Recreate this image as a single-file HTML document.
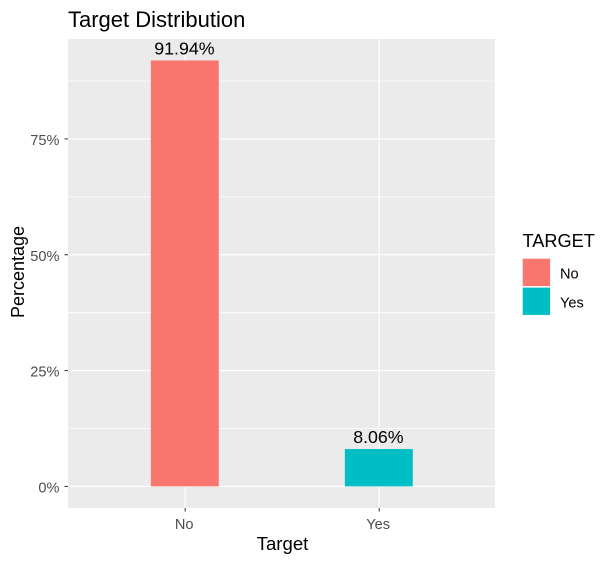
<!DOCTYPE html>
<html>
<head>
<meta charset="utf-8">
<style>
html,body{margin:0;padding:0;background:#fff;width:615px;height:563px;overflow:hidden}
svg{display:block;font-family:"Liberation Sans",Arial,sans-serif}
</style>
</head>
<body>
<svg id="chart" width="615" height="563" viewBox="0 0 615 563" xmlns="http://www.w3.org/2000/svg">
<rect x="0" y="0" width="615" height="563" fill="#ffffff"/>
<rect x="68" y="39" width="427" height="469" fill="#ebebeb"/>
<g id="grid"></g>
<g id="bars"></g>
<g id="yaxis"></g>
<g id="xaxis"></g>
<text x="68" y="27" font-size="22" fill="#000">Target Distribution</text>
<text x="282.5" y="550" font-size="18.6" fill="#000" text-anchor="middle">Target</text>
<text transform="translate(24 272) rotate(-90)" font-size="18" fill="#000" text-anchor="middle">Percentage</text>
<g id="legend">
<text x="522.5" y="247" font-size="18.2" fill="#000">TARGET</text>
</g>
</svg>
<script>
const categories = ['No', 'Yes'];
const percentages = [91.94, 8.06];
const yTicks = [0, 25, 50, 75];
const yMinorTicks = [12.5, 37.5, 62.5, 87.5];
const yTickLabels = ['0%', '25%', '50%', '75%'];
const barColors = ['#F8766D', '#00BFC4'];

const NS = 'http://www.w3.org/2000/svg';
function el(tag, attrs, parent, text) {
  const e = document.createElementNS(NS, tag);
  for (const k in attrs) e.setAttribute(k, attrs[k]);
  if (text !== undefined) e.textContent = text;
  parent.appendChild(e);
  return e;
}
const panel = { left: 68, right: 495, top: 39, bottom: 508 };
function yScale(v) { return 486.4 - v * 4.633; }
const xBand = 194;
function xScale(i) { return 185.2 + i * xBand; }
const barWidth = 0.35 * xBand;

const grid = document.getElementById('grid');
const bars = document.getElementById('bars');
const yaxis = document.getElementById('yaxis');
const xaxis = document.getElementById('xaxis');
const legend = document.getElementById('legend');

yMinorTicks.forEach(function (t) {
  const l = el('line', { x1: panel.left, x2: panel.right, y1: yScale(t), y2: yScale(t), stroke: '#fff', 'stroke-width': 0.8 }, grid);
  
  
});
yTicks.forEach(function (t, i) {
  const y = yScale(t);
  const l = el('line', { x1: panel.left, x2: panel.right, y1: y, y2: y, stroke: '#fff', 'stroke-width': 1.2 }, grid);
  
  
  const tick = el('line', { x1: panel.left - 3.5, x2: panel.left, y1: y, y2: y, stroke: '#333', 'stroke-width': 1 }, yaxis);
  
  
  const lab = el('text', { x: panel.left - 8.5, y: y + 6, 'font-size': 14.6, fill: '#4d4d4d', 'text-anchor': 'end' }, yaxis, yTickLabels[i]);
  
  
});
categories.forEach(function (c, i) {
  const x = xScale(i);
  const g = el('line', { x1: x, x2: x, y1: panel.top, y2: panel.bottom, stroke: '#fff', 'stroke-width': 1.2 }, grid);
  
  
  const tick = el('line', { x1: x, x2: x, y1: panel.bottom, y2: panel.bottom + 3.5, stroke: '#333', 'stroke-width': 1 }, xaxis);
  
  
  const lab = el('text', { x: x - 1, y: 529, 'font-size': 14.6, fill: '#4d4d4d', 'text-anchor': 'middle' }, xaxis, c);
  
  

  const top = yScale(percentages[i]);
  const r = el('rect', { x: x - barWidth / 2 - 0.4, y: top, width: barWidth, height: yScale(0) - top, fill: barColors[i] }, bars);
  
  
  const v = el('text', { x: x - 0.8, y: top - 6, 'font-size': 17.8, fill: '#000', 'text-anchor': 'middle' }, bars, percentages[i].toFixed(2) + '%');
  
  

  const ky = 258 + i * 28.9;
  const bg = el('rect', { x: 522, y: ky, width: 28.8, height: 28.8, fill: '#f2f2f2' }, legend);
  
  
  const sw = el('rect', { x: 522.8, y: ky + 0.8, width: 27.2, height: 27.2, fill: barColors[i] }, legend);
  
  
  const t = el('text', { x: 560, y: ky + 20.4, 'font-size': 14.6, fill: '#000' }, legend, c);
  
  
});
</script>
</body>
</html>
